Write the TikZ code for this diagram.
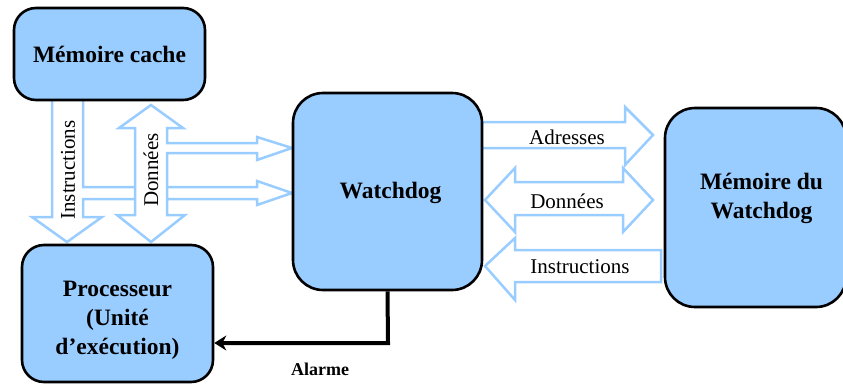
\documentclass[tikz,border=0pt]{standalone}
\usepackage{fontspec}
\setmainfont{Liberation Serif}
\usepackage{tikz}
\usetikzlibrary{arrows.meta,positioning,calc}
\definecolor{boxblue}{HTML}{99CCFF}

\begin{document}
\begin{tikzpicture}[x=1pt,y=-1pt,
	box/.style={draw,line width=2.6pt,fill=boxblue,rounded corners=22pt},
	boxtxt/.style={align=center,inner sep=0pt,font=\fontsize{23.5}{29}\selectfont\bfseries},
	hollow/.style={draw=boxblue,line width=2.5pt,fill=white,line join=miter},
	lab/.style={font=\fontsize{21}{24}\selectfont,inner sep=0pt}]
	\useasboundingbox (0,0) rectangle (843,383);
	\clip (0,0) rectangle (843,383);
	% bus arrows on the left
	\draw[hollow] (52,100)--(52,217)--(32,217)--(67,242)--(102,217)--(83,217)--(83,199)
		--(257,199)--(257,205)--(292,193)--(257,181)--(257,187)--(83,187)--(83,100);
	\draw[hollow] (151,105)--(183,128)--(167,128)--(167,143)--(257,143)--(257,137)--(292,148)
		--(257,160)--(257,153)--(167,153)--(167,215)--(185,215)--(151,242)--(117,215)
		--(135,215)--(135,128)--(119,128)--cycle;
	\node[lab,rotate=90] (instrL) at (68,170) {Instructions};
	\node[lab,rotate=90] (donL) at (151,170) {Données};
	% bus arrows on the right
	\draw[hollow] (482,122)--(625,122)--(625,107)--(653,135)--(625,165)--(625,148)--(482,148);
	\draw[hollow] (485,200)--(515,168)--(515,182)--(623,182)--(623,168)--(653,200)--(623,232)
		--(623,215)--(515,215)--(515,232)--cycle;
	\draw[hollow] (485,266)--(515,238)--(515,250)--(661,250)--(661,282)--(515,282)--(515,300)--cycle;
	\node[lab] (adr) at (567,137) {Adresses};
	\node[lab] (donR) at (567,201) {Données};
	\node[lab] (instrR) at (580,267) {Instructions};
	% blocks
	\node[box,minimum width=191,minimum height=92] (cache) at (109.5,54) {};
	\node[boxtxt] (cacheT) at (cache.center) {Mémoire cache};
	\node[box,minimum width=191,minimum height=137] (proc) at (117.5,313.5) {};
	\node[boxtxt] (procT) at ($(proc.center)+(0,7)$) {Processeur\\(Unité\\d’exécution)};
	\node[box,minimum width=189,minimum height=197,rounded corners=30pt] (wd) at (387.5,191.5) {};
	\node[boxtxt] (wdT) at ($(wd.center)+(3,1)$) {Watchdog};
	\node[box,minimum width=181,minimum height=199,rounded corners=30pt] (mem) at (755.5,207.5) {};
	\node[boxtxt] (memT) at ($(mem.center)+(6,-9)$) {Mémoire du\\Watchdog};
	% alarm line
	\coordinate (alm) at (388,343);
	\draw[line width=4pt,-{Stealth[length=12pt,width=15pt]}] (wd.south)--(alm)--(alm-|proc.east);
	\node[font=\fontsize{18}{20}\selectfont\bfseries] (alarme) at (320,369) {Alarme};
\end{tikzpicture}
\end{document}
